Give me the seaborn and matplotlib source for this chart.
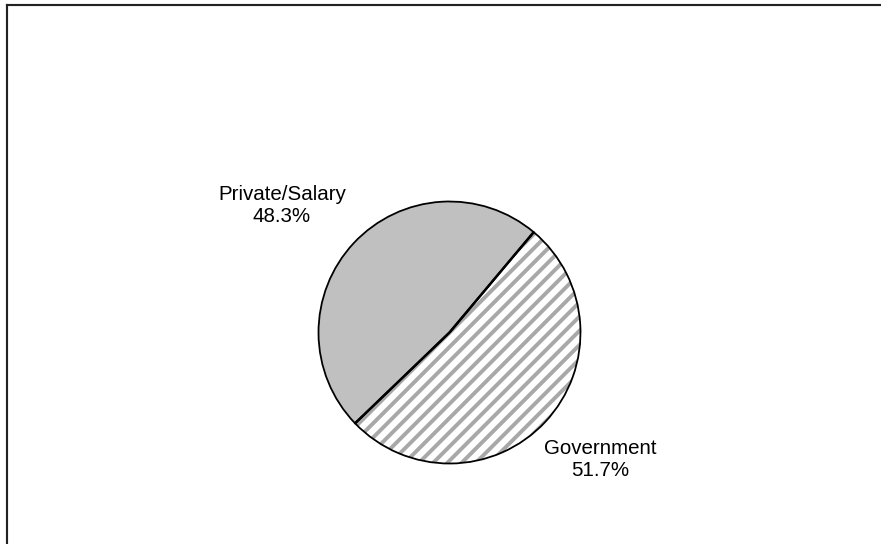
import matplotlib
matplotlib.use("Agg")
import matplotlib.pyplot as plt
from matplotlib.lines import Line2D
import numpy as np
import seaborn as sns

# Income source shares (percent)
categories = ["Private/Salary", "Government"]
shares = [48.3, 51.7]

sns.set_theme(style="white")
plt.rcParams["font.family"] = ["Liberation Sans", "DejaVu Sans"]
plt.rcParams["hatch.linewidth"] = 2.2

W, H, DPI = 881, 544, 128
fig = plt.figure(figsize=(W / DPI, H / DPI), dpi=DPI)
fig.patch.set_facecolor("white")

# Outer frame (left and top edges visible)
fx = 6.5 / W
fy = 1 - 4.5 / H
fig.add_artist(Line2D([fx, fx], [-0.05, fy], transform=fig.transFigure,
                      color="#222222", lw=1.2, solid_capstyle="projecting"))
fig.add_artist(Line2D([fx, 1.05], [fy, fy], transform=fig.transFigure,
                      color="#222222", lw=1.2, solid_capstyle="projecting"))

# Pie axes: centre and radius in pixels
cx, cy, r = 449.5, 332.5, 131.0
ax = fig.add_axes([(cx - r) / W, (H - cy - r) / H, 2 * r / W, 2 * r / H])

fills = ["#c0c0c0", "white"]
hatches = [None, "///"]

# Fill layer (grey hatch strokes)
wedges, _ = ax.pie(shares, startangle=50, counterclock=True, radius=1,
                   wedgeprops=dict(linewidth=0))
for w, fc, h in zip(wedges, fills, hatches):
    w.set_facecolor(fc)
    w.set_edgecolor("#a8a8a8")
    w.set_linewidth(0)
    if h:
        w.set_hatch(h)

# Outline layer
outl, _ = ax.pie(shares, startangle=50, counterclock=True, radius=1,
                 wedgeprops=dict(fill=False, edgecolor="black", linewidth=1.0))

# Heavier dividing radii between the two slices
for w in wedges:
    t = np.deg2rad(w.theta1)
    ax.plot([0, np.cos(t)], [0, np.sin(t)], color="black", lw=1.4,
            solid_capstyle="butt")

ax.set_xlim(-1.0, 1.0)
ax.set_ylim(-1.0, 1.0)
ax.set_aspect("equal", adjustable="box")
ax.axis("off")

label_pos = [(-1.279, 0.966), (1.149, -0.966)]
for name, v, (lx, ly) in zip(categories, shares, label_pos):
    ax.text(lx, ly, f"{name}\n{v:.1f}%", ha="center", va="center",
            fontsize=11.5, color="black", linespacing=1.2, clip_on=False)

fig.savefig("out.png", dpi=DPI, facecolor="white")
